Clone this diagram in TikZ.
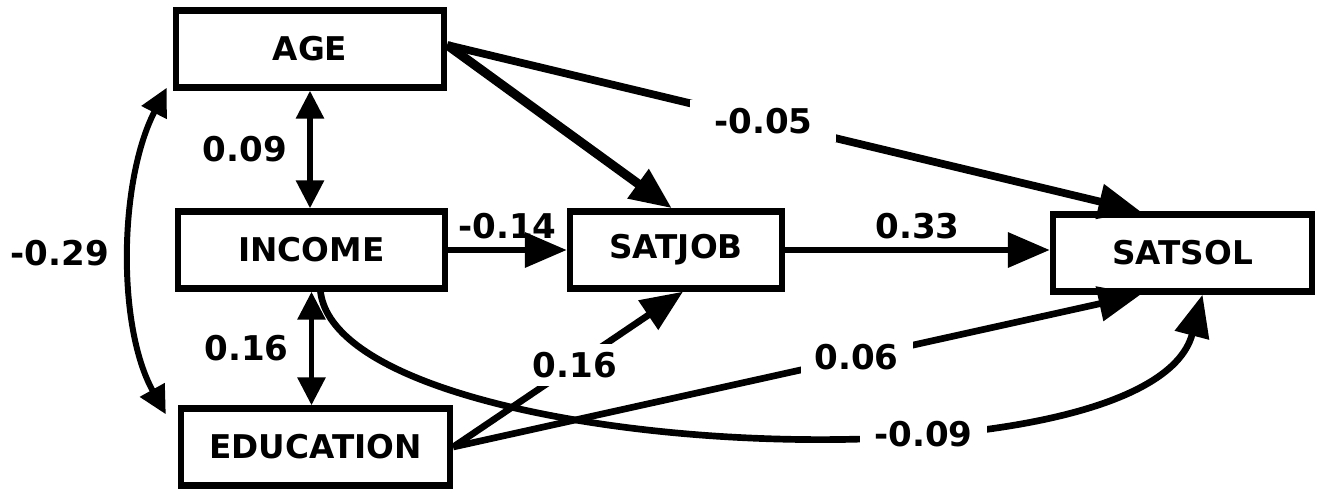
\documentclass[tikz,border=0pt]{standalone}
\usepackage{fontspec}
\setmainfont{DejaVu Sans}
\usetikzlibrary{arrows.meta}
\tikzset{
  varbox/.style={
    draw,
    line width = 1.8pt,
    inner sep = 0pt,
    minimum height = 0.77cm,
    font = \bfseries\fontsize{9.3}{11}\selectfont
  },
  coef/.style={
    inner sep = 0.08cm,
    font = \bfseries\fontsize{9.7}{11}\selectfont
  },
  gapcoef/.style={
    coef,
    fill = white,
    inner xsep = 0.14cm
  },
  effect/.style={
    line width = 1.9pt,
    -{Triangle[length=0.42cm,width=0.34cm]}
  },
  corr/.style={
    line width = 1.7pt,
    {Triangle[length=0.28cm,width=0.27cm]}-{Triangle[length=0.28cm,width=0.27cm]}
  }
}

\begin{document}
\begin{tikzpicture}
  \useasboundingbox (0,0) rectangle (13.19,4.90);
  \node[varbox, minimum width=2.68cm] (age) at (3.10,4.41) {AGE};
  \node[varbox, minimum width=2.67cm] (inc) at (3.115,2.40) {INCOME};
  \node[varbox, minimum width=2.69cm] (edu) at (3.155,0.43) {EDUCATION};
  \node[varbox, minimum width=2.12cm] (sj) at (6.76,2.40) {SATJOB};
  \node[varbox, minimum width=2.59cm] (ss) at (11.825,2.37) {SATSOL};

  \draw[corr] (age.south) -- node[coef, left=0.12cm] {0.09} (age.south |- inc.north);
  \draw[corr] (inc.south) -- node[coef, left=0.12cm] {0.16} (inc.south |- edu.north);
  \draw[corr] ([xshift=-0.06cm,yshift=0.03cm]age.south west) .. controls +(-0.48,-0.93) and +(-0.49,0.88) .. node[coef, left=0.1cm] {-0.29} ([xshift=-0.12cm,yshift=-0.09cm]edu.north west);

  \draw[effect, line width=2.6pt] ([yshift=0.04cm]age.east) -- ([xshift=-0.04cm]sj.north);
  \draw[effect, line width=2.2pt] ([yshift=0.04cm]age.east) -- node[gapcoef, inner xsep=0.24cm, pos=0.456] {-0.05} ([xshift=-0.42cm]ss.north);
  \draw[effect] (inc) -- node[coef, above] {-0.14} (sj);
  \draw[effect] (sj.east) -- node[coef, above] {0.33} (sj.east -| ss.west);
  \draw[effect] (edu.east) -- node[gapcoef, pos=0.53] {0.16} ([xshift=0.07cm]sj.south);
  \draw[effect] (edu.east) -- node[gapcoef, pos=0.587] {0.06} ([xshift=-0.42cm]ss.south);
  \draw[effect] ([xshift=0.09cm]inc.south) .. controls +(0.2,-1.7) and +(-0.53,-2.03) .. node[gapcoef, pos=0.64, yshift=-0.08cm] {-0.09} ([xshift=0.2cm]ss.south);
\end{tikzpicture}
\end{document}
